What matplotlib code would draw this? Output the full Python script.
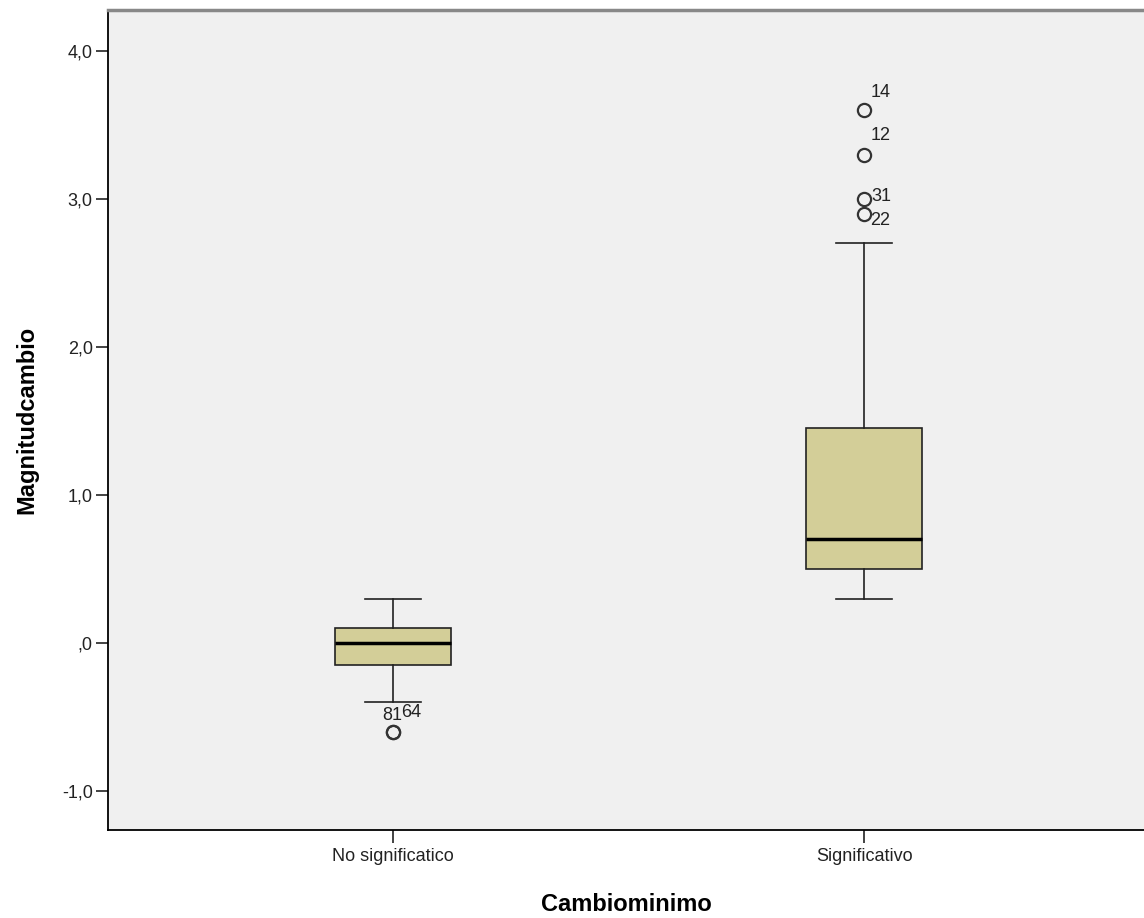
import matplotlib.pyplot as plt

plt.rcParams['font.family'] = ['Liberation Sans', 'DejaVu Sans']

groups = ['No significatico', 'Significativo']
q1 = [-0.15, 0.50]
med = [0.00, 0.70]
q3 = [0.10, 1.45]
whislo = [-0.40, 0.30]
whishi = [0.30, 2.70]
fliers = [[-0.60, -0.60], [3.60, 3.30, 3.00, 2.90]]
flier_ids = [['81', '64'], ['14', '12', '31', '22']]

# label offsets in points (dx, dy) from each outlier marker
label_pos = {'81': (-8, 12), '64': (5.5, 14),
             '14': (5, 13), '12': (5, 13.5),
             '31': (5.5, 2), '22': (4, -4.5)}

stats = []
for i in range(len(groups)):
    stats.append({'label': groups[i], 'q1': q1[i], 'med': med[i], 'q3': q3[i],
                  'whislo': whislo[i], 'whishi': whishi[i], 'fliers': []})

fig = plt.figure(figsize=(11.44, 9.18), dpi=100)
ax = fig.add_axes([108/1144, 88/918, 1 - 108/1144, (830 - 10)/918])
ax.set_facecolor('#f0f0f0')

ax.bxp(stats, positions=[1, 2], widths=0.246, patch_artist=True,
       boxprops=dict(facecolor='#d3ce98', edgecolor='#222222', linewidth=1.2),
       medianprops=dict(color='black', linewidth=2.5),
       whiskerprops=dict(color='#222222', linewidth=1.2),
       capprops=dict(color='#222222', linewidth=1.2),
       capwidths=0.12, showfliers=False)

for i in range(len(groups)):
    for v, name in zip(fliers[i], flier_ids[i]):
        ax.plot(i + 1, v, 'o', mfc='none', mec='#333333', mew=1.6, ms=9.5)
        dx, dy = label_pos[name]
        ax.annotate(name, (i + 1, v), xytext=(dx, dy), textcoords='offset points',
                    ha='left', va='center', fontsize=13, color='#222222')

ax.set_xlim(0.395, 2.594)
ax.set_ylim(-1.264, 4.277)
ax.set_yticks([-1, 0, 1, 2, 3, 4])
ax.set_yticklabels(['-1,0', ',0', '1,0', '2,0', '3,0', '4,0'])
ax.tick_params(axis='both', labelsize=13, length=9, width=1.2, pad=2,
               color='#222222', labelcolor='#222222')
ax.tick_params(axis='x', pad=4)

ax.spines['right'].set_visible(False)
ax.spines['top'].set_color('#888888')
ax.spines['top'].set_linewidth(2.5)
for s in ['left', 'bottom']:
    ax.spines[s].set_linewidth(1.3)

ax.set_xlabel('Cambiominimo', fontsize=17, fontweight='bold', labelpad=20)
ax.set_ylabel('Magnitudcambio', fontsize=17, fontweight='bold', labelpad=17)

fig.savefig('out.png', dpi=100)
